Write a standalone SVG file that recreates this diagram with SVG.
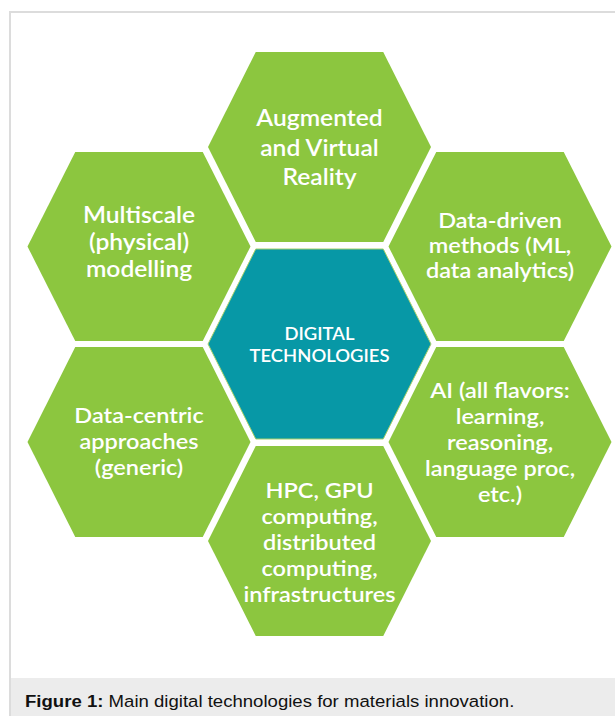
<svg xmlns="http://www.w3.org/2000/svg" width="615" height="716" viewBox="0 0 615 716">
<style>
.hex{fill:#8cc63f}
.core{fill:#0798a6;stroke:#a5d06a;stroke-width:1}
.t{font-family:Lato,"Open Sans",sans-serif;font-weight:600;fill:#ffffff;text-anchor:middle}
.cap{font-family:"Liberation Sans",Arial,sans-serif;font-size:16.3px;fill:#111}
</style>
<rect x="0" y="0" width="615" height="716" fill="#ffffff"/>
<rect x="10" y="12" width="620" height="720" fill="#ffffff" stroke="#dcdcdc" stroke-width="2"/>
<rect x="11" y="678" width="604" height="38" fill="#ececec"/>
<g id="connectors"></g>
<g id="node-ar">
<path class="hex" d="M255.75,52 L383.25,52 L431,147 L383.25,242 L255.75,242 L208,147 Z"/>
<g transform="translate(319.5 0) scale(1.12 1)">
<text class="t" font-size="22" x="0" y="126">Augmented</text>
<text class="t" font-size="22" x="0" y="156">and Virtual</text>
<text class="t" font-size="22" x="0" y="185">Reality</text>
</g>
</g>
<g id="node-multiscale">
<path class="hex" d="M75.25,152 L202.75,152 L250.5,246.5 L202.75,341 L75.25,341 L27.5,246.5 Z"/>
<g transform="translate(139 0) scale(1.12 1)">
<text class="t" font-size="22" x="0" y="223">Multiscale</text>
<text class="t" font-size="22" x="0" y="250">(physical)</text>
<text class="t" font-size="22" x="0" y="277">modelling</text>
</g>
</g>
<g id="node-datadriven">
<path class="hex" d="M436.25,152 L563.75,152 L611.5,246.5 L563.75,341 L436.25,341 L388.5,246.5 Z"/>
<g transform="translate(500 0) scale(1.12 1)">
<text class="t" font-size="21" x="0" y="228">Data-driven</text>
<text class="t" font-size="21" x="0" y="253">methods (ML,</text>
<text class="t" font-size="21" x="0" y="278">data analytics)</text>
</g>
</g>
<g id="node-digital">
<path class="core" d="M255.75,249 L383.25,249 L431,344 L383.25,439 L255.75,439 L208,344 Z"/>
<g transform="translate(319.5 0) scale(1.12 1)">
<text class="t" font-size="16.5" x="0" y="340">DIGITAL</text>
<text class="t" font-size="16.5" x="0" y="362">TECHNOLOGIES</text>
</g>
</g>
<g id="node-datacentric">
<path class="hex" d="M75.25,347 L202.75,347 L250.5,442 L202.75,537 L75.25,537 L27.5,442 Z"/>
<g transform="translate(139 0) scale(1.12 1)">
<text class="t" font-size="21" x="0" y="423">Data-centric</text>
<text class="t" font-size="21" x="0" y="449">approaches</text>
<text class="t" font-size="21" x="0" y="475">(generic)</text>
</g>
</g>
<g id="node-ai">
<path class="hex" d="M436.25,347 L563.75,347 L611.5,442 L563.75,537 L436.25,537 L388.5,442 Z"/>
<g transform="translate(500 0) scale(1.12 1)">
<text class="t" font-size="21" x="0" y="398">AI (all flavors:</text>
<text class="t" font-size="21" x="0" y="424">learning,</text>
<text class="t" font-size="21" x="0" y="450">reasoning,</text>
<text class="t" font-size="21" x="0" y="476">language proc,</text>
<text class="t" font-size="21" x="0" y="502">etc.)</text>
</g>
</g>
<g id="node-hpc">
<path class="hex" d="M255.75,446 L383.25,446 L431,541 L383.25,636 L255.75,636 L208,541 Z"/>
<g transform="translate(319.5 0) scale(1.12 1)">
<text class="t" font-size="21" x="0" y="498">HPC, GPU</text>
<text class="t" font-size="21" x="0" y="524">computing,</text>
<text class="t" font-size="21" x="0" y="550">distributed</text>
<text class="t" font-size="21" x="0" y="576">computing,</text>
<text class="t" font-size="21" x="0" y="602">infrastructures</text>
</g>
</g>
<g transform="translate(25 0) scale(1.14 1)">
<text class="cap" x="0" y="707"><tspan font-weight="bold">Figure 1:</tspan> Main digital technologies for materials innovation.</text>
</g>
</svg>
